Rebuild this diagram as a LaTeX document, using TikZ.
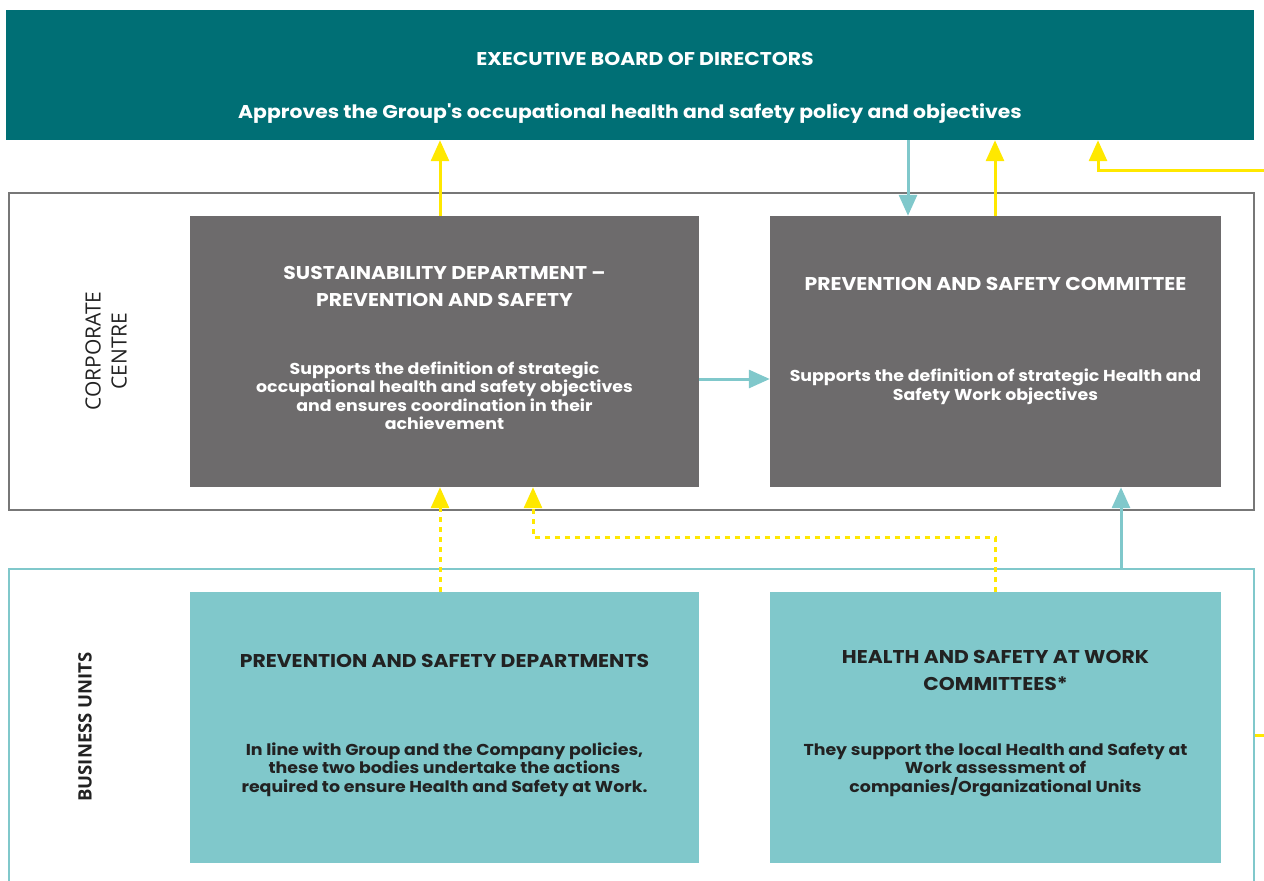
\documentclass[tikz,border=0pt]{standalone}
\usepackage{fontspec}
\setmainfont{Poppins}[FakeStretch=1.1]
\newfontfamily\sidefont{Open Sans}
\usetikzlibrary{arrows.meta}
\definecolor{execteal}{HTML}{006F75}
\definecolor{deptgray}{HTML}{6D6B6C}
\definecolor{framegray}{HTML}{777777}
\definecolor{lightteal}{HTML}{80C8CB}
\definecolor{flowyellow}{HTML}{FFE800}
\definecolor{ink}{HTML}{222222}
\begin{document}
\begin{tikzpicture}[x=1pt,y=-1pt,
  execbox/.style={fill=execteal, inner sep=0, minimum width=1248pt, minimum height=130pt},
  frame/.style={draw=#1, line width=2.5pt, inner sep=0, minimum width=1245pt},
  deptbox/.style={fill=#1, inner sep=0, minimum height=271pt},
  widebox/.style={minimum width=509pt},
  narrowbox/.style={minimum width=451pt},
  headtext/.style={font=\bfseries\fontsize{18.5}{27}\selectfont, align=center},
  bodytext/.style={font=\bfseries\fontsize{15.8}{18.5}\selectfont, align=center},
  sidetext/.style={text=ink, rotate=90, align=center},
  tipshape/.style={-{Triangle[width=18pt,length=21pt]}},
  yflow/.style={draw=flowyellow, line width=3pt, tipshape},
  tflow/.style={draw=lightteal, line width=3pt, tipshape},
  ydash/.style={draw=flowyellow, line width=3pt, dash pattern=on 5pt off 5pt, tipshape}]
\useasboundingbox (0,0) rectangle (1264,881);
\clip (0,0) rectangle (1264,881);

% frames of the two levels
\node[frame=framegray, minimum height=317pt] (cc) at (631.5,351.5) {};
\node[frame=lightteal, minimum height=340pt] (bu) at (631.5,739) {};

% boxes
\node[execbox] (exec) at (630,75) {};
\node[deptbox=deptgray, widebox] (sd) at (444.5,351.5) {};
\node[deptbox=deptgray, narrowbox] (pc) at (995.5,351.5) {};
\node[deptbox=lightteal, widebox] (psd) at (444.5,727.5) {};
\node[deptbox=lightteal, narrowbox] (hsc) at (995.5,727.5) {};

% texts
\node[headtext, text=white] (execT) at (645,59) {EXECUTIVE BOARD OF DIRECTORS};
\node[headtext, text=white] (execB) at (630,114) {Approves the Group\textquotesingle s occupational health and safety policy and objectives};

\node[headtext, text=white] (sdT) at (444.5,286.5) {SUSTAINABILITY DEPARTMENT --\\PREVENTION AND SAFETY};
\node[bodytext, text=white] (sdB) at (444.5,395.5) {Supports the definition of strategic\\occupational health and safety objectives\\and ensures coordination in their\\achievement};

\node[headtext, text=white] (pcT) at (995.5,284) {PREVENTION AND SAFETY COMMITTEE};
\node[bodytext, text=white] (pcB) at (995.5,387) {Supports the definition of strategic Health and\\Safety Work objectives};

\node[headtext, text=ink] (psdT) at (444.5,661) {PREVENTION AND SAFETY DEPARTMENTS};
\node[bodytext, text=ink] (psdB) at (444.5,769.5) {In line with Group and the Company policies,\\these two bodies undertake the actions\\required to ensure Health and Safety at Work.};

\node[headtext, text=ink] (hscT) at (995.5,670.5) {HEALTH AND SAFETY AT WORK\\COMMITTEES*};
\node[bodytext, text=ink] (hscB) at (995.5,769.5) {They support the local Health and Safety at\\Work assessment of\\companies/Organizational Units};

\node[sidetext, font=\sidefont\fontsize{21}{26}\selectfont] (ccL) at (106,351) {CORPORATE\\CENTRE};
\node[sidetext, font=\sidefont\bfseries\fontsize{18.5}{20}\selectfont] (buL) at (85,727) {BUSINESS UNITS};

% connector columns
\coordinate (cA) at (440,0);
\coordinate (cB) at (908,0);
\coordinate (cC) at (995,0);
\coordinate (cD) at (1098,0);
\coordinate (cE) at (533,0);
\coordinate (cF) at (1121,0);
\coordinate (rowMid) at (0,379);
\coordinate (rowDash) at (0,537);
\coordinate (loopLow) at (1300,735);
\coordinate (loopHigh) at (1300,170);

% connectors
\draw[yflow] (sd.north -| cA) -- (exec.south -| cA);
\draw[tflow] (exec.south -| cB) -- (pc.north -| cB);
\draw[yflow] (pc.north -| cC) -- (exec.south -| cC);
\draw[tflow] (sd.east |- rowMid) -- (pc.west |- rowMid);
\draw[ydash] (psd.north -| cA) -- (sd.south -| cA);
\draw[ydash] (hsc.north -| cC) -- (rowDash -| cC) -- (rowDash -| cE) -- (sd.south -| cE);
\draw[tflow] (bu.north -| cF) -- (pc.south -| cF);
\draw[yflow] (bu.east |- loopLow) -- (loopLow) -- (loopHigh) -- (loopHigh -| cD) -- (exec.south -| cD);
\end{tikzpicture}
\end{document}
